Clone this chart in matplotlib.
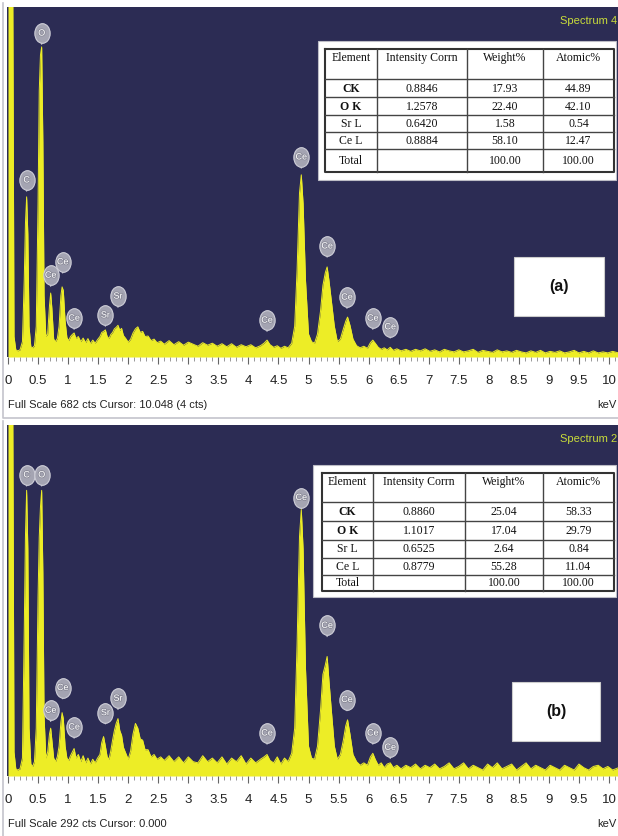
import matplotlib
matplotlib.use('Agg')
import numpy as np
import matplotlib.pyplot as plt
from matplotlib.patches import Rectangle
from matplotlib.path import Path
import matplotlib.patheffects as pe

# channel energies (keV), shared by both spectra
energy = [
    0.00, 0.03, 0.05, 0.08, 0.10, 0.13, 0.16, 0.20, 0.24, 0.27,
    0.29, 0.31, 0.33, 0.35, 0.38, 0.41, 0.44, 0.47, 0.50, 0.52,
    0.54, 0.56, 0.58, 0.60, 0.63, 0.66, 0.69, 0.71, 0.73, 0.76,
    0.79, 0.82, 0.85, 0.88, 0.90, 0.92, 0.95, 0.98, 1.01, 1.04,
    1.07, 1.10, 1.13, 1.17, 1.21, 1.25, 1.29, 1.33, 1.37, 1.41,
    1.45, 1.49, 1.53, 1.56, 1.59, 1.62, 1.65, 1.68, 1.71, 1.74,
    1.77, 1.80, 1.83, 1.86, 1.89, 1.92, 1.96, 2.00, 2.04, 2.08,
    2.12, 2.16, 2.20, 2.24, 2.28, 2.33, 2.38, 2.43, 2.48, 2.54,
    2.60, 2.68, 2.76, 2.84, 2.92, 3.00, 3.08, 3.16, 3.24, 3.32,
    3.40, 3.48, 3.56, 3.64, 3.72, 3.80, 3.88, 3.96, 4.04, 4.12,
    4.20, 4.26, 4.31, 4.36, 4.42, 4.48, 4.54, 4.60, 4.66, 4.72,
    4.77, 4.81, 4.85, 4.88, 4.91, 4.95, 5.00, 5.05, 5.10, 5.15,
    5.20, 5.24, 5.28, 5.31, 5.34, 5.38, 5.43, 5.48, 5.53, 5.58,
    5.62, 5.65, 5.69, 5.74, 5.80, 5.86, 5.92, 5.98, 6.03, 6.07,
    6.11, 6.16, 6.21, 6.26, 6.31, 6.36, 6.41, 6.47, 6.54, 6.62,
    6.70, 6.78, 6.86, 6.94, 7.02, 7.10, 7.18, 7.26, 7.34, 7.42,
    7.50, 7.58, 7.66, 7.74, 7.82, 7.90, 7.98, 8.06, 8.14, 8.22,
    8.30, 8.38, 8.46, 8.54, 8.62, 8.70, 8.78, 8.86, 8.94, 9.02,
    9.10, 9.18, 9.26, 9.34, 9.42, 9.50, 9.58, 9.66, 9.74, 9.82,
    9.90, 9.98, 10.06, 10.16,
]

# spectrum (a), counts
counts_a = [
    700, 720, 720, 700, 40, 14, 12, 14, 30, 150,
    260, 313, 240, 60, 20, 18, 22, 60, 300, 520,
    590, 606, 420, 120, 40, 45, 100, 125, 95, 35,
    30, 36, 60, 120, 137, 130, 70, 38, 32, 40,
    44, 47, 36, 40, 30, 37, 28, 36, 26, 33,
    27, 34, 40, 48, 50, 53, 40, 36, 44, 48,
    55, 58, 62, 52, 56, 42, 36, 29, 35, 47,
    55, 59, 48, 50, 40, 41, 32, 35, 28, 31,
    25, 32, 24, 30, 23, 29, 25, 21, 28, 23,
    27, 21, 26, 20, 26, 19, 24, 20, 24, 18,
    22, 27, 33, 24, 19, 22, 17, 21, 18, 27,
    60, 170, 320, 356, 300, 150, 45, 30, 27, 45,
    90, 140, 165, 176, 150, 110, 60, 30, 35, 55,
    70, 78, 62, 35, 22, 18, 21, 17, 28, 33,
    27, 19, 15, 18, 14, 19, 13, 16, 12, 15,
    11, 15, 12, 16, 11, 14, 10, 15, 12, 10,
    14, 10, 12, 15, 9, 13, 11, 9, 14, 10,
    12, 9, 13, 10, 8, 12, 9, 13, 8, 11,
    9, 12, 8, 10, 13, 8, 11, 8, 12, 8,
    10, 8, 11, 8,
]

# spectrum (b), counts
counts_b = [
    300, 310, 310, 300, 20, 6, 5, 6, 15, 120,
    200, 239, 190, 40, 10, 8, 12, 40, 150, 200,
    225, 239, 170, 50, 15, 20, 35, 40, 30, 15,
    12, 16, 25, 45, 53, 48, 25, 15, 13, 17,
    20, 23, 15, 18, 12, 17, 11, 15, 10, 14,
    11, 15, 18, 28, 33, 25, 16, 14, 21, 30,
    38, 44, 48, 38, 34, 24, 19, 14, 21, 35,
    44, 40, 31, 30, 22, 22, 16, 18, 14, 16,
    13, 17, 12, 16, 11, 16, 12, 11, 17, 12,
    15, 11, 16, 10, 15, 12, 17, 10, 15, 11,
    14, 16, 18, 13, 11, 16, 10, 15, 12, 19,
    40, 110, 200, 223, 190, 90, 25, 15, 14, 25,
    55, 85, 93, 100, 80, 55, 25, 14, 18, 30,
    42, 47, 35, 18, 12, 9, 11, 9, 16, 19,
    14, 9, 11, 7, 10, 11, 7, 9, 6, 9,
    7, 10, 6, 9, 7, 10, 6, 8, 11, 6,
    8, 11, 6, 9, 7, 5, 10, 7, 11, 6,
    8, 10, 5, 8, 11, 6, 9, 7, 5, 9,
    7, 5, 9, 7, 5, 10, 7, 5, 8, 9,
    6, 8, 5, 7,
]

# peak tags
tag_names = ['C', 'O', 'Ce', 'Ce', 'Ce', 'Sr', 'Sr', 'Ce', 'Ce', 'Ce', 'Ce', 'Ce', 'Ce']
tag_kev = [0.31, 0.56, 0.71, 0.91, 1.10, 1.62, 1.83, 4.31, 4.88, 5.31, 5.64, 6.07, 6.36]
tag_cts_a = [346, 633, 160, 186, 76, 82, 119, 72, 391, 217, 117, 76, 59]
tag_cts_b = [252, 252, 55, 74, 41, 53, 65, 36, 233, 126, 64, 36, 24]

tick_kev = [0, 0.5, 1, 1.5, 2, 2.5, 3, 3.5, 4, 4.5, 5, 5.5, 6, 6.5, 7, 7.5, 8, 8.5, 9, 9.5, 10]
tick_labels = ['0', '0.5', '1', '1.5', '2', '2.5', '3', '3.5', '4', '4.5', '5',
               '5.5', '6', '6.5', '7', '7.5', '8', '8.5', '9', '9.5', '10']

# quantification tables
table_header = ['Element', 'Intensity Corrn', 'Weight%', 'Atomic%']
elements = ['CK', 'O K', 'Sr L', 'Ce L', 'Total']
intensity_a = ['0.8846', '1.2578', '0.6420', '0.8884', '']
weight_a = ['17.93', '22.40', '1.58', '58.10', '100.00']
atomic_a = ['44.89', '42.10', '0.54', '12.47', '100.00']
intensity_b = ['0.8860', '1.1017', '0.6525', '0.8779', '']
weight_b = ['25.04', '17.04', '2.64', '55.28', '100.00']
atomic_b = ['58.33', '29.79', '0.84', '11.04', '100.00']

NAVY = '#2c2c54'
YELLOW = '#eded26'
sans = ['Liberation Sans', 'DejaVu Sans']
serif = ['Liberation Serif', 'DejaVu Serif']

W, H = 618, 836
fig = plt.figure(figsize=(W / 100, H / 100), dpi=100)
fig.patch.set_facecolor('white')

# overlay in pixel coordinates for tables, boxes and footers
ov = fig.add_axes([0, 0, 1, 1], zorder=10)
ov.set_xlim(0, W)
ov.set_ylim(H, 0)
ov.axis('off')
ov.patch.set_alpha(0)

# balloon shape (slightly taller than wide)
circ = Path.unit_circle()
balloon = Path(circ.vertices * np.array([0.78, 1.0]), circ.codes)


def px_axes(x0, y0, x1, y1):
    return fig.add_axes([x0 / W, 1 - y1 / H, (x1 - x0) / W, (y1 - y0) / H])


def spectrum_panel(top, base, full_scale, counts, tag_cts, spec_name, footer, tag, table, box):
    ax = px_axes(7, top, 618, base)
    ax.set_facecolor(NAVY)
    kev_px = 60.1
    ax.set_xlim(-1 / kev_px, (618 - 8) / kev_px)
    ax.set_ylim(0, full_scale * (base - top) / 349)
    ax.fill_between(energy, counts, 0, color=YELLOW, lw=0)
    ax.plot(energy, counts, color=YELLOW, lw=0.7)
    for s in ax.spines.values():
        s.set_visible(False)
    ax.set_yticks([])
    ax.set_xticks(tick_kev, tick_labels)
    ax.set_xticks(np.arange(0, 10.15, 0.1), minor=True)
    ax.tick_params(axis='x', which='major', direction='out', length=5, width=0.8,
                   color='#666666', pad=8, labelsize=9.5)
    ax.tick_params(axis='x', which='minor', direction='out', length=3, width=0.6, color='#888888')
    for lab in ax.get_xticklabels():
        lab.set_family(sans)
        lab.set_color('#222222')

    # peak balloons
    for name, e, h in zip(tag_names, tag_kev, tag_cts):
        ax.annotate('', xy=(e, h), xytext=(0, -10), textcoords='offset points',
                    arrowprops=dict(arrowstyle='-', color='#b8b8c4', lw=1.0))
        ax.scatter([e], [h], marker=balloon, s=200, color='#a4a4b2',
                   edgecolor='#cfcfd8', lw=0.8, zorder=5)
        ax.text(e, h, name, ha='center', va='center', color='white', fontsize=6.5,
                family=sans, zorder=6,
                path_effects=[pe.withStroke(linewidth=1.2, foreground='#8a8a98')])

    ov.text(617, top + 14, spec_name, color='#c9dc3a', fontsize=8, family=sans,
            va='center', ha='right')
    ov.text(8, base + 48, footer, fontsize=8, family=sans, color='#222222', va='center')
    ov.text(617, base + 48, 'keV', fontsize=8, family=sans, color='#222222',
            va='center', ha='right')
    ov.plot([3, 3, 618], [top - 4, base + 61, base + 61], color='#c4c4cc', lw=1.2)

    # (a)/(b) box
    bx0, by0, bx1, by1 = box
    ov.add_patch(Rectangle((bx0, by0), bx1 - bx0, by1 - by0, fc='white', ec='#cccccc', lw=0.8))
    ov.text((bx0 + bx1) / 2, (by0 + by1) / 2, tag, ha='center', va='center',
            fontsize=11.5, fontweight='bold', family=sans, color='#111111')

    # table
    outer, cols, rows, cells = table
    ox0, oy0, ox1, oy1 = outer
    ov.add_patch(Rectangle((ox0, oy0), ox1 - ox0, oy1 - oy0, fc='white', ec='#bdbdc6', lw=0.8))
    ov.plot([cols[0], cols[-1], cols[-1], cols[0], cols[0]],
            [rows[0], rows[0], rows[-1], rows[-1], rows[0]], color='#333333', lw=1.5)
    for c in cols[1:-1]:
        ov.plot([c, c], [rows[0], rows[-1]], color='#444444', lw=1.0)
    for r in rows[1:-1]:
        ov.plot([cols[0], cols[-1]], [r, r], color='#444444', lw=1.0)
    centers = [(cols[i] + cols[i + 1]) / 2 for i in range(4)]
    for i, h in enumerate(table_header):
        ov.text(centers[i], rows[0] + 3, h, ha='center', va='top', fontsize=8.5,
                family=serif, color='#111111')
    for j, row in enumerate(cells):
        ym = (rows[j + 1] + rows[j + 2]) / 2
        for i, val in enumerate(row):
            bold = (i == 0 and j < 2)
            ov.text(centers[i], ym + 0.5, val, ha='center', va='center', fontsize=8.5,
                    family=serif, color='#111111', fontweight='bold' if bold else 'normal')
    return ax


cells_a = list(zip(elements, intensity_a, weight_a, atomic_a))
cells_b = list(zip(elements, intensity_b, weight_b, atomic_b))

spectrum_panel(7, 357, 682, counts_a, tag_cts_a, 'Spectrum 4',
               'Full Scale 682 cts Cursor: 10.048 (4 cts)', '(a)',
               ((318, 41, 616, 180), [325, 377, 467, 543, 614],
                [49, 79, 97, 115, 132, 149, 172], cells_a),
               (514, 257, 604, 316))

spectrum_panel(425, 776, 292, counts_b, tag_cts_b, 'Spectrum 2',
               'Full Scale 292 cts Cursor: 0.000', '(b)',
               ((313, 465, 616, 597), [322, 373, 465, 543, 614],
                [473, 502, 521, 540, 558, 575, 591], cells_b),
               (512, 682, 600, 741))

fig.savefig('out.png', dpi=100)
